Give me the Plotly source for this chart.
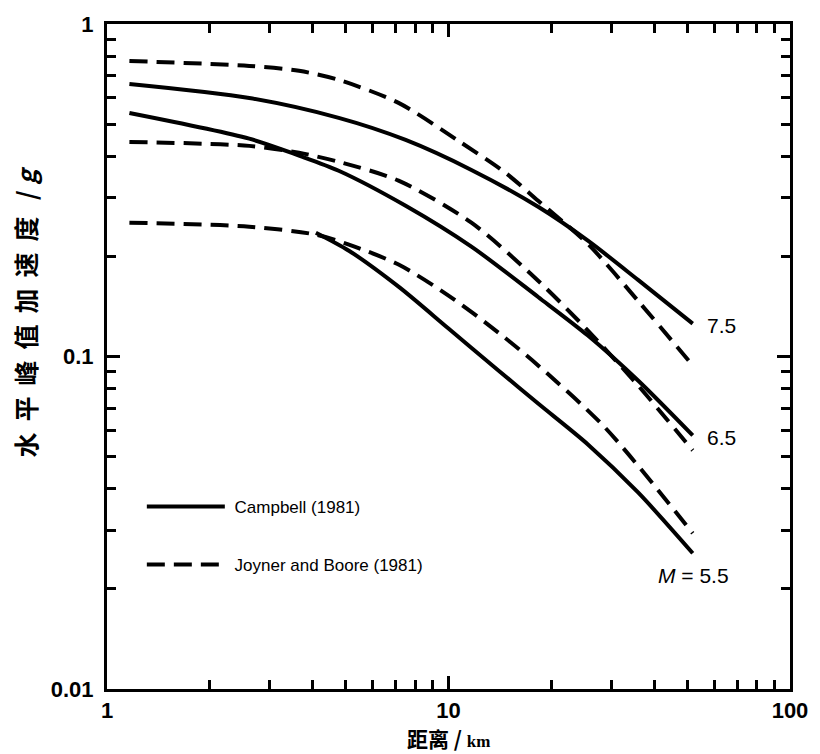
import numpy as np
import plotly.graph_objects as go

# Distance (km) and peak horizontal acceleration (g)
camp75_x = [1.163, 2.61, 4.77, 7.49, 11.67, 18.3, 25.6, 35.9, 51.9]
camp75_y = [0.660, 0.599, 0.522, 0.448, 0.364, 0.282, 0.223, 0.170, 0.1256]
jb75_x = [1.163, 2.61, 3.65, 4.77, 7.14, 10.7, 14.67, 18.3, 25.6, 35.9, 51.9]
jb75_y = [0.774, 0.748, 0.723, 0.679, 0.579, 0.445, 0.357, 0.294, 0.218, 0.147, 0.094]

camp65_x = [1.163, 2.61, 3.65, 4.77, 7.49, 11.67, 18.3, 25.6, 35.9, 51.9]
camp65_y = [0.540, 0.452, 0.402, 0.362, 0.284, 0.214, 0.151, 0.1156, 0.0847, 0.0579]
jb65_x = [1.163, 2.61, 3.65, 4.77, 7.14, 11.67, 18.3, 25.6, 35.9, 51.9]
jb65_y = [0.442, 0.430, 0.410, 0.385, 0.338, 0.2526, 0.169, 0.1197, 0.0818, 0.0522]

camp55_x = [4.09, 5.11, 7.14, 10.0, 14.0, 18.3, 25.6, 35.9, 51.9]
camp55_y = [0.2357, 0.208, 0.1622, 0.1214, 0.0908, 0.0722, 0.0544, 0.0390, 0.0256]
jb55_x = [1.163, 2.61, 4.09, 5.11, 7.14, 10.0, 14.0, 18.3, 28.7, 51.9]
jb55_y = [0.2526, 0.2457, 0.2325, 0.2170, 0.189, 0.1525, 0.118, 0.094, 0.0612, 0.0294]

mag_labels = ["7.5", "6.5", "<i>M</i> = 5.5"]
mag_label_y = [0.124, 0.0571, 0.022]
legend_names = ["\u00a0Campbell (1981)", "\u00a0Joyner and Boore (1981)"]

x_tickvals = [1, 10, 100]
x_ticktext = ["1", "10", "100"]
y_tickvals = [0.01, 0.1, 1]
y_ticktext = ["0.01", "0.1", "1"]

LW = 4
DASH = "18px,9px"

fig = go.Figure()
solid = [(camp75_x, camp75_y), (camp65_x, camp65_y), (camp55_x, camp55_y)]
dashed = [(jb75_x, jb75_y), (jb65_x, jb65_y), (jb55_x, jb55_y)]
for i, (xs, ys) in enumerate(solid):
    fig.add_trace(go.Scatter(x=xs, y=ys, mode="lines",
                             line=dict(color="black", width=LW, shape="spline", smoothing=0.8),
                             name=legend_names[0], legendgroup="c", showlegend=(i == 0)))
for i, (xs, ys) in enumerate(dashed):
    fig.add_trace(go.Scatter(x=xs, y=ys, mode="lines",
                             line=dict(color="black", width=LW, dash=DASH, shape="spline", smoothing=0.8),
                             name=legend_names[1], legendgroup="j", showlegend=(i == 0)))

tickfont = dict(family="Liberation Sans, Arial", size=22, color="black", weight="bold")
common = dict(type="log", showgrid=False, zeroline=False, showline=True, linecolor="black",
              linewidth=3, mirror="ticks", ticks="inside", ticklen=13, tickwidth=3,
              tickcolor="black", tickfont=tickfont,
              minor=dict(ticks="inside", ticklen=9, tickwidth=3, tickcolor="black",
                         dtick="D1", showgrid=False))
fig.update_xaxes(range=[0, 2], tickvals=x_tickvals, ticktext=x_ticktext, **common)
fig.update_yaxes(range=[-2, 0], tickvals=y_tickvals, ticktext=y_ticktext,
                 ticklabelstandoff=6, **common)

# magnitude labels
xs_end = [camp75_x[-1], camp65_x[-1], camp55_x[-1]]
xoff = [12, 12, -37]
for lab, yv, xe, dx in zip(mag_labels, mag_label_y, xs_end, xoff):
    fig.add_annotation(x=np.log10(xe), y=np.log10(yv), text=lab, showarrow=False,
                       xanchor="left", yanchor="middle", xshift=dx,
                       font=dict(family="Liberation Sans, Arial", size=21, color="black"))

# axis titles
fig.add_annotation(xref="paper", yref="paper", x=0, y=0.566, xshift=-82,
                   text="<span style='letter-spacing:11px'>水平峰值加速度</span> / <i>g</i>",
                   textangle=-90, showarrow=False,
                   xanchor="center", yanchor="middle",
                   font=dict(family="Noto Sans CJK SC", size=25, color="black", weight="bold"))
fig.add_annotation(xref="paper", yref="paper", x=0.5, y=0, yshift=-49,
                   text="距离 / <span style='font-family:Liberation Serif;font-size:17px'>km</span>",
                   showarrow=False, xanchor="center", yanchor="middle",
                   font=dict(family="Noto Sans CJK SC", size=21, color="black", weight="bold"))

fig.update_layout(
    width=820, height=754,
    margin=dict(l=107, r=28, t=23, b=65),
    paper_bgcolor="white", plot_bgcolor="white",
    showlegend=True,
    legend=dict(x=0.051, y=0.301, xanchor="left", yanchor="top", itemwidth=78,
                tracegroupgap=33, bgcolor="rgba(0,0,0,0)",
                font=dict(family="Liberation Sans, Arial", size=17, color="black")),
)

fig.write_html("out.html")
